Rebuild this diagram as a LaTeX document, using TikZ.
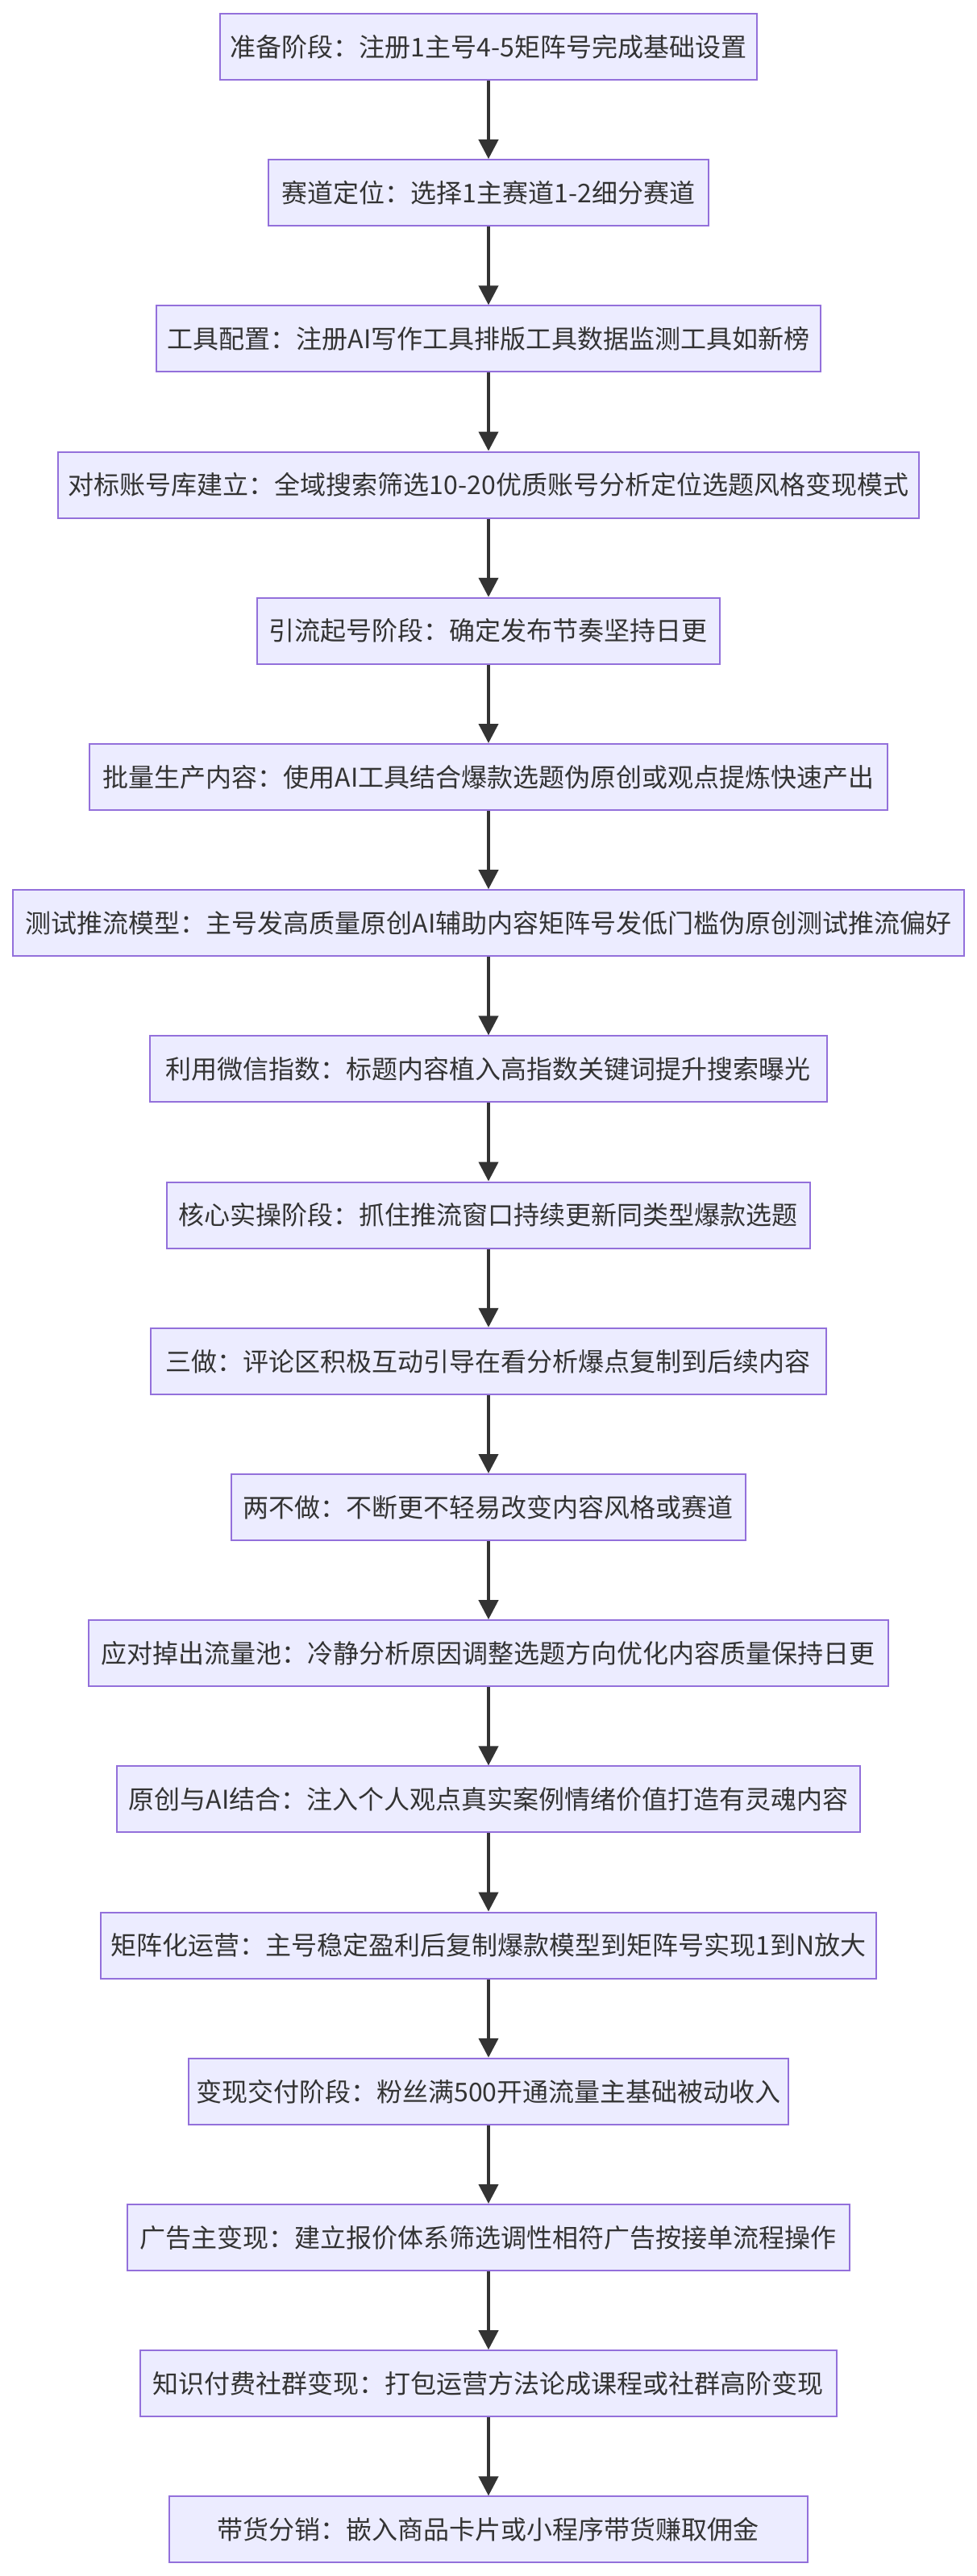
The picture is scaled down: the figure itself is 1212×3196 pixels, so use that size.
\documentclass[tikz,border=0pt]{standalone}
\usepackage{fontspec}
\newfontfamily\cjk{Noto Sans CJK SC}
\usetikzlibrary{arrows.meta}
\definecolor{lilac}{HTML}{ECECFF}
\definecolor{violet}{HTML}{9370DB}
\definecolor{ink}{HTML}{333333}
\begin{document}
\begin{tikzpicture}[x=1pt,y=1pt,
    stage/.style={draw=violet,fill=lilac,line width=2pt,text=ink,
      font=\cjk\fontsize{32}{40}\selectfont,minimum height=82pt,inner xsep=0pt},
    flow/.style={-{Triangle[length=24pt,width=24pt]},line width=4pt,ink}]
  \useasboundingbox (-606,0) rectangle (606,-3196);
  \foreach \i/\w/\t in {
      1/666/准备阶段：注册1主号4-5矩阵号完成基础设置,
      2/546/赛道定位：选择1主赛道1-2细分赛道,
      3/823/工具配置：注册AI写作工具排版工具数据监测工具如新榜,
      4/1067/对标账号库建立：全域搜索筛选10-20优质账号分析定位选题风格变现模式,
      5/574/引流起号阶段：确定发布节奏坚持日更,
      6/990/批量生产内容：使用AI工具结合爆款选题伪原创或观点提炼快速产出,
      7/1179/测试推流模型：主号发高质量原创AI辅助内容矩阵号发低门槛伪原创测试推流偏好,
      8/839/利用微信指数：标题内容植入高指数关键词提升搜索曝光,
      9/798/核心实操阶段：抓住推流窗口持续更新同类型爆款选题,
      10/837/三做：评论区积极互动引导在看分析爆点复制到后续内容,
      11/638/两不做：不断更不轻易改变内容风格或赛道,
      12/992/应对掉出流量池：冷静分析原因调整选题方向优化内容质量保持日更,
      13/921/原创与AI结合：注入个人观点真实案例情绪价值打造有灵魂内容,
      14/961/矩阵化运营：主号稳定盈利后复制爆款模型到矩阵号实现1到N放大,
      15/743/变现交付阶段：粉丝满500开通流量主基础被动收入,
      16/896/广告主变现：建立报价体系筛选调性相符广告按接单流程操作,
      17/864/知识付费社群变现：打包运营方法论成课程或社群高阶变现,
      18/792/带货分销：嵌入商品卡片或小程序带货赚取佣金}
    \node[stage,minimum width=\w pt] (s\i) at (0,{-58-(\i-1)*181.2}) {\t};
  \foreach \i [count=\j from 2] in {1,...,17}
    \draw[flow] (s\i.south) -- (s\j.north);
\end{tikzpicture}
\end{document}
